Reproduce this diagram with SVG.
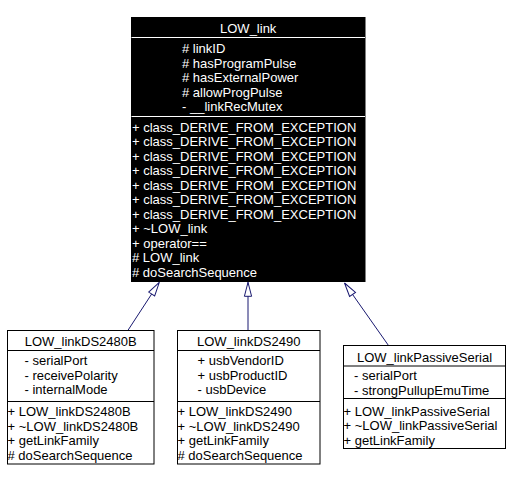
<svg xmlns="http://www.w3.org/2000/svg" width="518" height="481" viewBox="0 0 518 481">
<style>
text{font-family:"Liberation Sans",Arial,Helvetica,sans-serif;font-size:13px;}
.w{fill:#ffffff;}
.k{fill:#000000;}
.mid{text-anchor:middle;}
.box{fill:#ffffff;stroke:#000000;stroke-width:1;}
.sep{stroke:#000000;stroke-width:1;}
.wsep{stroke:#ffffff;stroke-width:1;}
.edge{fill:none;stroke:#191970;stroke-width:1;}
</style>
<defs>
<marker id="tri" markerUnits="userSpaceOnUse" viewBox="-1 -5 16 10" markerWidth="16" markerHeight="10" refX="14" refY="0" orient="auto">
<path d="M0,-3.6 L14,0 L0,3.6 Z" fill="#ffffff" stroke="#191970" stroke-width="1"/>
</marker>
</defs>
<rect width="518" height="481" fill="#ffffff"/>
<g id="connectors">
<path class="edge" d="M127.5,331 L159.3,282.3" marker-end="url(#tri)"/>
<path class="edge" d="M248,331 L248,282.3" marker-end="url(#tri)"/>
<path class="edge" d="M388.5,345.5 L344.5,283" marker-end="url(#tri)"/>
</g>
<g id="LOW_link">
<rect x="131.5" y="17.5" width="233.5" height="264" fill="#000000" stroke="#000000"/>
<line class="wsep" x1="131.5" y1="37.5" x2="365" y2="37.5"/>
<line class="wsep" x1="131.5" y1="116.5" x2="365" y2="116.5"/>
<text class="w mid" x="248.2" y="32.7">LOW_link</text>
<text class="w" x="182"><tspan x="182" y="53"># linkID</tspan><tspan x="182" y="67.5"># hasProgramPulse</tspan><tspan x="182" y="82"># hasExternalPower</tspan><tspan x="182" y="96.5"># allowProgPulse</tspan><tspan x="182" y="111">- __linkRecMutex</tspan></text>
<text class="w"><tspan x="132" y="131.5">+ class_DERIVE_FROM_EXCEPTION</tspan><tspan x="132" y="146">+ class_DERIVE_FROM_EXCEPTION</tspan><tspan x="132" y="160.5">+ class_DERIVE_FROM_EXCEPTION</tspan><tspan x="132" y="175">+ class_DERIVE_FROM_EXCEPTION</tspan><tspan x="132" y="189.5">+ class_DERIVE_FROM_EXCEPTION</tspan><tspan x="132" y="204">+ class_DERIVE_FROM_EXCEPTION</tspan><tspan x="132" y="218.5">+ class_DERIVE_FROM_EXCEPTION</tspan><tspan x="132" y="233">+ ~LOW_link</tspan><tspan x="132" y="247.5">+ operator==</tspan><tspan x="132" y="262"># LOW_link</tspan><tspan x="132" y="276.5"># doSearchSequence</tspan></text>
</g>
<g id="LOW_linkDS2480B">
<rect class="box" x="7.5" y="330.5" width="146.5" height="133.5"/>
<line class="sep" x1="7.5" y1="350.5" x2="154" y2="350.5"/>
<line class="sep" x1="7.5" y1="401.5" x2="154" y2="401.5"/>
<text class="k mid" x="80.7" y="345.5">LOW_linkDS2480B</text>
<text class="k"><tspan x="24.5" y="365">- serialPort</tspan><tspan x="24.5" y="379.5">- receivePolarity</tspan><tspan x="24.5" y="394">- internalMode</tspan></text>
<text class="k"><tspan x="7.5" y="416">+ LOW_linkDS2480B</tspan><tspan x="7.5" y="430.5">+ ~LOW_linkDS2480B</tspan><tspan x="7.5" y="445">+ getLinkFamily</tspan><tspan x="7.5" y="459.5"># doSearchSequence</tspan></text>
</g>
<g id="LOW_linkDS2490">
<rect class="box" x="177.5" y="330.5" width="142.5" height="133.5"/>
<line class="sep" x1="177.5" y1="350.5" x2="320" y2="350.5"/>
<line class="sep" x1="177.5" y1="401.5" x2="320" y2="401.5"/>
<text class="k mid" x="248.7" y="345.5">LOW_linkDS2490</text>
<text class="k"><tspan x="197.5" y="365">+ usbVendorID</tspan><tspan x="197.5" y="379.5">+ usbProductID</tspan><tspan x="197.5" y="394">- usbDevice</tspan></text>
<text class="k"><tspan x="177.5" y="416">+ LOW_linkDS2490</tspan><tspan x="177.5" y="430.5">+ ~LOW_linkDS2490</tspan><tspan x="177.5" y="445">+ getLinkFamily</tspan><tspan x="177.5" y="459.5"># doSearchSequence</tspan></text>
</g>
<g id="LOW_linkPassiveSerial">
<rect class="box" x="343.5" y="345.5" width="162" height="103"/>
<line class="sep" x1="343.5" y1="366" x2="505.5" y2="366"/>
<line class="sep" x1="343.5" y1="398.5" x2="505.5" y2="398.5"/>
<text class="k mid" x="424.5" y="361.5">LOW_linkPassiveSerial</text>
<text class="k"><tspan x="354" y="380">- serialPort</tspan><tspan x="354" y="394.5">- strongPullupEmuTime</tspan></text>
<text class="k"><tspan x="343.5" y="415.5">+ LOW_linkPassiveSerial</tspan><tspan x="343.5" y="430">+ ~LOW_linkPassiveSerial</tspan><tspan x="343.5" y="444.5">+ getLinkFamily</tspan></text>
</g>
</svg>
